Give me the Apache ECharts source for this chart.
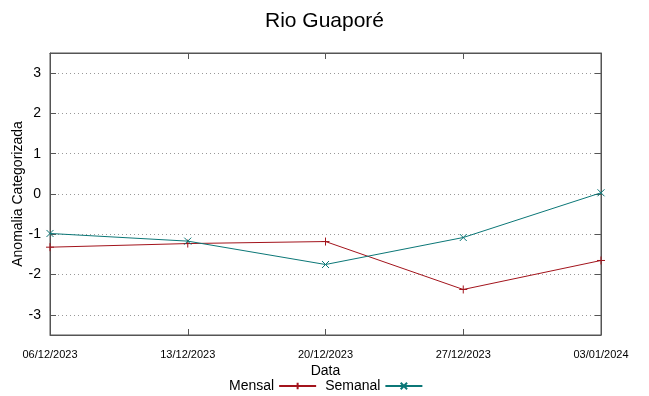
<!DOCTYPE html>
<html><head><meta charset="utf-8">
<script src="https://cdn.jsdelivr.net/npm/echarts@6/dist/echarts.min.js"></script>
<style>html,body{margin:0;padding:0;background:#fff}#c{width:649px;height:396px}</style>
</head><body><div id="c"></div>
<script>
const categories = ['06/12/2023','13/12/2023','20/12/2023','27/12/2023','03/01/2024'];
const mensal = [-1.32, -1.23, -1.18, -2.37, -1.65];
const semanal = [-0.98, -1.17, -1.75, -1.08, 0.03];
const yTicks = [-3,-2,-1,0,1,2,3];

const plusPath = 'path://M0,5L10,5M5,0L5,10';
const crossPath = 'path://M0,0L10,10M10,0L0,10';
const redC = '#a3141c', tealC = '#0b7777';
const font = 'Liberation Sans, Arial, sans-serif';
const chart = echarts.init(document.getElementById('c'), null, {renderer:'canvas'});
chart.setOption({
  animation:false,
  backgroundColor:'#fff',
  title:{text:'Rio Guaporé', left:'center', top:6, textStyle:{fontFamily:font, fontSize:21, fontWeight:'normal', color:'#000'}},
  grid:{left:50, right:48, top:53, bottom:61, show:true, borderColor:'#555', borderWidth:1, containLabel:false, outerBoundsMode:'none'},
  legend:{
    data:['Mensal','Semanal'], left:224, top:374, align:'right', itemGap:8,
    itemWidth:37, itemHeight:8,
    textStyle:{fontFamily:font, fontSize:14, color:'#000', padding:[0,0,0,0]}
  },
  xAxis:[{
    type:'category', data:categories, boundaryGap:false,
    name:'Data', nameLocation:'middle', nameGap:29, nameMoveOverlap:false,
    nameTextStyle:{fontFamily:font, fontSize:14, color:'#000'},
    axisLine:{show:true, onZero:false, lineStyle:{color:'#555'}},
    axisTick:{show:true, inside:true, length:6, lineStyle:{color:'#555'}},
    axisLabel:{margin:14, fontFamily:'Liberation Sans Narrow, Arial Narrow, Liberation Sans, sans-serif', fontSize:11, color:'#000', showMinLabel:true, showMaxLabel:true, interval:0},
    splitLine:{show:false}
  },{
    type:'category', data:categories, boundaryGap:false, position:'top',
    axisLine:{show:true, onZero:false, lineStyle:{color:'#555'}},
    axisTick:{show:true, inside:true, length:6, lineStyle:{color:'#555'}},
    axisLabel:{show:false}, splitLine:{show:false}
  }],
  yAxis:[{
    type:'value', min:-3.5, max:3.5, interval:1,
    name:'Anomalia Categorizada', nameLocation:'middle', nameGap:25, nameMoveOverlap:false,
    nameTextStyle:{fontFamily:font, fontSize:14, color:'#000'},
    axisLine:{show:true, onZero:false, lineStyle:{color:'#555'}},
    axisTick:{show:true, inside:true, length:6, lineStyle:{color:'#555'}, customValues:yTicks},
    axisLabel:{fontFamily:font, fontSize:14, color:'#000', margin:9, customValues:yTicks, formatter:v=>String(v)},
    splitLine:{show:true, lineStyle:{type:[1,3], color:'#999', width:1}}
  },{
    type:'value', min:-3.5, max:3.5, interval:1, position:'right',
    axisLine:{show:true, onZero:false, lineStyle:{color:'#555'}},
    axisTick:{show:true, inside:true, length:6, lineStyle:{color:'#555'}, customValues:yTicks},
    axisLabel:{show:false}, splitLine:{show:false}
  }],
  series:[{
    name:'Mensal', type:'line', data:mensal, symbol:plusPath, symbolSize:8,
    lineStyle:{color:redC, width:1}, itemStyle:{color:redC, borderColor:redC, borderWidth:1}
  },{
    name:'Semanal', type:'line', data:semanal, symbol:crossPath, symbolSize:7,
    lineStyle:{color:tealC, width:1}, itemStyle:{color:tealC, borderColor:tealC, borderWidth:1}
  }]
});
</script></body></html>
